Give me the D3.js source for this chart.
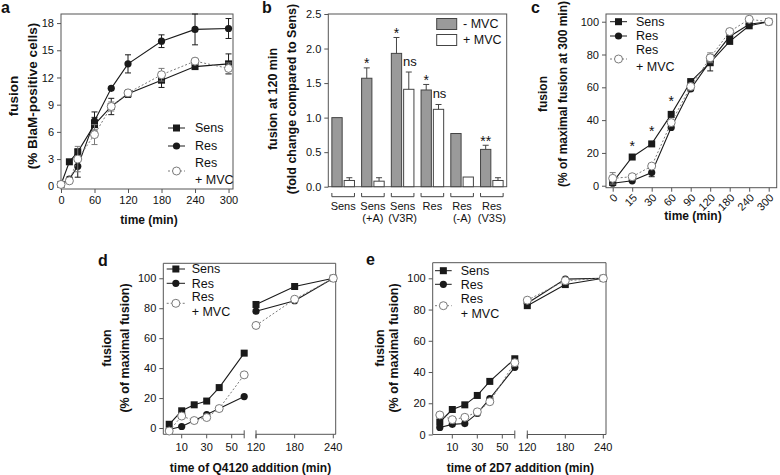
<!DOCTYPE html>
<meta charset="utf-8">
<script src="https://d3js.org/d3.v7.min.js"></script>
<style>
body { margin: 0; background: #fff; }
text { font-family: "Liberation Sans", Arial, sans-serif; fill: #111; }
</style>
<body></body>
<script>

// ---------- data ----------
// panel a: fusion kinetics (% BlaM-positive cells)
var timeA = [0, 15, 30, 60, 90, 120, 180, 240, 300];
var aSens    = [0.2, 2.7, 3.8, 6.8, 8.8, 10.2, 11.7, 13.2, 13.5];
var aSensErr = [0, 0, 0.3, 0.8, 0.9, 0.4, 0.8, 0.3, 1.1];
var aRes     = [0.2, 0.8, 2.2, 7.2, 10.8, 13.5, 16.0, 17.3, 17.4];
var aResErr  = [0, 0.2, 1.2, 1.0, 0, 1.0, 0.7, 1.7, 1.1];
var aMvc     = [0.2, 0.6, 3.0, 5.7, 8.8, 10.3, 12.3, 13.8, 13.0];
var aMvcErr  = [0, 0.2, 1.4, 1.1, 0.5, 0.3, 0.7, 0.3, 0.6];
var aTicksY = [0, 3, 6, 9, 12, 15, 18];
var aTicksX = [0, 60, 120, 180, 240, 300];

// panel b: fusion at 120 min, fold change
var bLine1 = ["Sens", "Sens", "Sens", "Res", "Res", "Res"];
var bLine2 = ["", "(+A)", "(V3R)", "", "(-A)", "(V3S)"];
var bMinus    = [1.0, 1.57, 1.93, 1.40, 0.77, 0.54];
var bMinusErr = [0, 0.15, 0.23, 0.08, 0, 0.06];
var bPlus     = [0.09, 0.08, 1.41, 1.12, 0.14, 0.09];
var bPlusErr  = [0.04, 0.05, 0.25, 0.07, 0, 0.04];
var bMinusMark = ["", "*", "*", "*", "", "**"];
var bPlusMark  = ["", "", "ns", "ns", "", ""];
var bTicksY = [0, 0.5, 1.0, 1.5, 2.0, 2.5];

// panel c: % of maximal fusion at 300 min
var cTimes = ["0", "15", "30", "60", "90", "120", "180", "240", "300"];
var cSens    = [2, 17.5, 25.5, 43.5, 63.5, 75, 88, 97.5, 100];
var cSensErr = [0, 0, 0, 0, 0, 5, 0, 0, 0];
var cRes     = [1.5, 3, 8, 35.5, 59, 76, 91, 98.5, 100];
var cResErr  = [0, 0, 2.5, 0, 0, 0, 0, 0, 0];
var cMvc     = [4.5, 5.5, 12, 38.5, 60.5, 78, 94, 101.5, 100];
var cMvcErr  = [3.5, 1, 0, 0, 0, 3, 0, 1, 0];
var cStarAt  = ["15", "30", "60"];
var cStarVal = [26, 35, 53];
var cTicksY = [0, 20, 40, 60, 80, 100];

// panels d, e: time of inhibitor addition
var addTimes = [0, 10, 20, 30, 40, 60, 120, 180, 240];
var dSens = [2.5, 11.5, 15.5, 18, 27, 50, 82.5, 94.5, 100];
var dRes  = [-1, 1, 5, 9, 13, 21, 78, 85, 100];
var dMvc  = [-2, 8, 5, 7, 13, 35.5, 68.5, 86, 100];
var eSens = [8, 16, 19, 25, 34, 48.5, 82.5, 96, 100];
var eRes  = [4.5, 6.5, 7, 13.5, 23, 43, 84, 99.5, 100];
var eMvc  = [12.5, 9.5, 11, 14.5, 21, 46, 86, 98.5, 100];
var leftTicks = [10, 30, 50], rightTicks = [120, 180, 240];

var seriesNames = ["Sens", "Res", "Res", "+ MVC"];

// ---------- setup ----------
var FONT = '"Liberation Sans", Arial, sans-serif';
var ink = "#1a1a1a", frameCol = "#555", mvcCol = "#7a7a7a";

var svg = d3.select("body").append("svg")
    .attr("width", 780)
    .attr("height", 475);

function styleAxis(g) {
  g.attr("font-family", FONT).attr("font-size", 11);
  g.selectAll("line").attr("stroke", frameCol);
  g.selectAll("text").attr("fill", "#111");
  g.select(".domain").remove();
}

function yAxis(scale, x, ticks, fmt) {
  svg.append("g")
      .attr("transform", "translate(" + x + ",0)")
      .call(d3.axisLeft(scale).tickValues(ticks).tickSize(4).tickPadding(3).tickFormat(fmt || d3.format("d")))
      .call(styleAxis);
}

function yTitle(x1, x2, cy, t1, t2, fs) {
  [[x1, t1], [x2, t2]].forEach(function(p) {
    svg.append("text")
        .attr("transform", "translate(" + p[0] + "," + cy + ") rotate(-90)")
        .attr("text-anchor", "middle")
        .attr("dy", "0.35em")
        .attr("font-size", fs || 12.5)
        .attr("font-weight", "bold")
        .text(p[1]);
  });
}

function xTitle(cx, y, t) {
  svg.append("text").attr("x", cx).attr("y", y)
      .attr("text-anchor", "middle").attr("font-size", 12).attr("font-weight", "bold").text(t);
}

function panelLetter(x, y, t) {
  svg.append("text").attr("x", x).attr("y", y)
      .attr("font-size", 16).attr("font-weight", "bold").text(t);
}

function marker(g, px, py, kind) {
  if (kind == "sq") {
    g.append("rect").attr("x", px - 3.5).attr("y", py - 3.5)
        .attr("width", 7).attr("height", 7).attr("fill", ink);
  } else if (kind == "dot") {
    g.append("circle").attr("cx", px).attr("cy", py).attr("r", 3.6).attr("fill", ink);
  } else {
    g.append("circle").attr("cx", px).attr("cy", py).attr("r", 4)
        .attr("fill", "#fff").attr("stroke", mvcCol).attr("stroke-width", 1);
  }
}

function series(g, xs, ys, errs, xf, yf, kind) {
  var open = kind == "open";
  var col = open ? mvcCol : ink;
  g.append("path")
      .datum(ys)
      .attr("d", d3.line().x(function(d, i) { return xf(xs[i]); }).y(function(d) { return yf(d); }))
      .attr("fill", "none")
      .attr("stroke", col)
      .attr("stroke-width", open ? 1 : 1.1)
      .attr("stroke-dasharray", open ? "2,2" : null);
  if (errs) {
    errs.forEach(function(e, i) {
      if (!e) return;
      var px = xf(xs[i]), lo = yf(ys[i] - e), hi = yf(ys[i] + e);
      g.append("path")
          .attr("d", "M" + px + "," + lo + "V" + hi + "M" + (px - 3) + "," + lo + "h6M" + (px - 3) + "," + hi + "h6")
          .attr("stroke", col).attr("stroke-width", 1).attr("fill", "none");
    });
  }
  ys.forEach(function(d, i) { marker(g, xf(xs[i]), yf(d), kind); });
}

function legend(x1, x2, tx, ySens, yRes, yMvc, yResT, yMvcT) {
  var g = svg.append("g");
  var rows = [[ySens, "sq"], [yRes, "dot"], [yMvc, "open"]];
  rows.forEach(function(r) {
    var open = r[1] == "open";
    g.append("line").attr("x1", x1).attr("x2", x2).attr("y1", r[0]).attr("y2", r[0])
        .attr("stroke", open ? mvcCol : ink).attr("stroke-dasharray", open ? "2,2" : null);
    marker(g, (x1 + x2) / 2, r[0], r[1]);
  });
  [[ySens, seriesNames[0]], [yRes, seriesNames[1]], [yResT, seriesNames[2]], [yMvcT, seriesNames[3]]].forEach(function(r) {
    g.append("text").attr("x", tx).attr("y", r[0]).attr("dy", "0.35em").attr("font-size", 12.5).text(r[1]);
  });
}

// ---------- panel a ----------
(function() {
  var x0 = 61, x1 = 233, y0 = 14, y1 = 189;
  var x = d3.scaleLinear().domain([0, 308]).range([x0, x1]);
  var y = d3.scaleLinear().domain([-0.3, 19]).range([y1, y0]);
  svg.append("rect").attr("x", x0).attr("y", y0).attr("width", x1 - x0).attr("height", y1 - y0)
      .attr("fill", "none").attr("stroke", frameCol);
  yAxis(y, x0, aTicksY);
  svg.append("g").attr("transform", "translate(0," + y1 + ")")
      .call(d3.axisBottom(x).tickValues(aTicksX).tickSize(4).tickPadding(3))
      .call(styleAxis);
  var g = svg.append("g");
  series(g, timeA, aSens, aSensErr, x, y, "sq");
  series(g, timeA, aRes, aResErr, x, y, "dot");
  series(g, timeA, aMvc, aMvcErr, x, y, "open");
  legend(168, 185, 195, 128, 146, 171, 163, 180);
  yTitle(13, 32, 96, "fusion", "(% BlaM-positive cells)", 13.5);
  xTitle(149, 224, "time (min)");
  panelLetter(1, 13, "a");
})();

// ---------- panel b ----------
(function() {
  var x0 = 328.3, x1 = 506.7, y0 = 14, y1 = 186.7;
  var x = d3.scaleBand().domain(d3.range(bMinus.length)).range([x0, x1]).paddingInner(0.24).paddingOuter(0.12);
  var y = d3.scaleLinear().domain([0, 2.5]).range([y1, y0]);
  svg.append("rect").attr("x", x0).attr("y", y0).attr("width", x1 - x0).attr("height", y1 - y0)
      .attr("fill", "none").attr("stroke", frameCol);
  yAxis(y, x0, bTicksY, d3.format(".1f"));
  var bw = x.bandwidth(), barW = (bw - 2) / 2;
  var g = svg.append("g");
  [[bMinus, bMinusErr, bMinusMark, 0, "#9a9a9a"], [bPlus, bPlusErr, bPlusMark, barW + 2, "#fff"]].forEach(function(s) {
    s[0].forEach(function(v, i) {
      var bx = x(i) + s[3];
      g.append("rect").attr("x", bx).attr("y", y(v)).attr("width", barW).attr("height", y1 - y(v))
          .attr("fill", s[4]).attr("stroke", "#444").attr("stroke-width", 1);
      var top = y(v + s[1][i]);
      if (s[1][i]) {
        g.append("path").attr("d", "M" + (bx + barW / 2) + "," + y(v) + "V" + top + "M" + (bx + barW / 2 - 3) + "," + top + "h6")
            .attr("stroke", "#444").attr("fill", "none");
      }
      var m = s[2][i];
      if (m == "ns") {
        g.append("text").attr("x", bx + barW / 2 + 1).attr("y", top - 6.5).attr("text-anchor", "middle")
            .attr("font-size", 13).text(m);
      } else if (m) {
        g.append("text").attr("x", bx + barW / 2).attr("y", top + 0.5).attr("text-anchor", "middle")
            .attr("font-size", 14).text(m);
      }
    });
  });
  // group brackets and labels
  bLine1.forEach(function(t, i) {
    var a = x(i), b = x(i) + bw;
    g.append("path").attr("d", "M" + a + ",193V196.7H" + b + "V193").attr("stroke", "#444").attr("fill", "none");
    g.append("text").attr("x", (a + b) / 2).attr("y", 210).attr("text-anchor", "middle").attr("font-size", 11).text(t);
    if (bLine2[i]) g.append("text").attr("x", (a + b) / 2).attr("y", 222).attr("text-anchor", "middle").attr("font-size", 11).text(bLine2[i]);
  });
  // legend
  svg.append("rect").attr("x", 436.7).attr("y", 18.5).attr("width", 20).attr("height", 11).attr("fill", "#9a9a9a").attr("stroke", "#444");
  svg.append("rect").attr("x", 436.7).attr("y", 34.5).attr("width", 20).attr("height", 11).attr("fill", "#fff").attr("stroke", "#444");
  svg.append("text").attr("x", 463).attr("y", 24).attr("dy", "0.35em").attr("font-size", 12.5).text("- MVC");
  svg.append("text").attr("x", 463).attr("y", 40).attr("dy", "0.35em").attr("font-size", 12.5).text("+ MVC");
  yTitle(273, 292, 99, "fusion at 120 min", "(fold change compared to Sens)");
  panelLetter(262, 13, "b");
})();

// ---------- panel c ----------
(function() {
  var x0 = 606, x1 = 776.7, y0 = 14, y1 = 187.7;
  var x = d3.scalePoint().domain(cTimes).range([612.7, 768.7]);
  var y = d3.scaleLinear().domain([-1.2, 104.7]).range([y1, y0]);
  svg.append("rect").attr("x", x0).attr("y", y0).attr("width", x1 - x0).attr("height", y1 - y0)
      .attr("fill", "none").attr("stroke", frameCol);
  yAxis(y, x0, cTicksY);
  var ax = svg.append("g").attr("transform", "translate(0," + y1 + ")")
      .call(d3.axisBottom(x).tickSize(4).tickFormat(""))
      .call(styleAxis);
  // slanted category labels
  cTimes.forEach(function(t) {
    svg.append("text")
        .attr("transform", "translate(" + (x(t) + 3) + "," + (y1 + 8) + ") rotate(-45)")
        .attr("text-anchor", "end")
        .attr("dy", "0.35em")
        .attr("font-size", 11)
        .text(t);
  });
  var g = svg.append("g");
  series(g, cTimes, cSens, cSensErr, x, y, "sq");
  series(g, cTimes, cRes, cResErr, x, y, "dot");
  series(g, cTimes, cMvc, cMvcErr, x, y, "open");
  cStarAt.forEach(function(t, i) {
    g.append("text").attr("x", x(t)).attr("y", y(cStarVal[i]) + 7.5).attr("text-anchor", "middle")
        .attr("font-size", 14).text("*");
  });
  legend(610, 627, 636, 21.7, 36, 59, 50, 67);
  yTitle(543, 563, 94, "fusion", "(% of maximal fusion at 300 min)", 12);
  xTitle(693, 220, "time (min)");
  panelLetter(531, 13, "c");
})();

// ---------- panels d and e (broken x axis) ----------
function brokenPanel(o) {
  var xl = d3.scaleLinear().domain([0, 60]).range(o.left);
  var xr = d3.scaleLinear().domain([120, 240]).range(o.right);
  var xf = function(t) { return t <= 60 ? xl(t) : xr(t); };
  var y = d3.scaleLinear().domain(o.yDom).range([o.axisY, o.top]);
  svg.append("path")
      .attr("d", "M" + o.x0 + "," + o.axisY + "V" + o.top + "H" + o.x1 + "V" + o.axisY)
      .attr("fill", "none").attr("stroke", frameCol);
  yAxis(y, o.x0, cTicksY);
  // broken axis segments
  var ax = svg.append("g").attr("stroke", frameCol).attr("fill", "none");
  ax.append("path").attr("d", "M" + o.x0 + "," + o.axisY + "H" + xl(60) + "M" + xl(60) + "," + (o.axisY - 4) + "v8");
  ax.append("path").attr("d", "M" + xr(120) + "," + o.axisY + "H" + o.x1 + "M" + xr(120) + "," + (o.axisY - 4) + "v8");
  var ticks = leftTicks.concat(rightTicks);
  ticks.forEach(function(t) {
    ax.append("line").attr("x1", xf(t)).attr("x2", xf(t)).attr("y1", o.axisY).attr("y2", o.axisY + 4);
    svg.append("text").attr("x", xf(t)).attr("y", 451).attr("text-anchor", "middle").attr("font-size", 11).text(t);
  });
  var g = svg.append("g");
  [[o.sens, "sq"], [o.res, "dot"], [o.mvc, "open"]].forEach(function(s) {
    series(g, addTimes.slice(0, 6), s[0].slice(0, 6), null, xf, y, s[1]);
    series(g, addTimes.slice(6), s[0].slice(6), null, xf, y, s[1]);
  });
  xTitle((o.x0 + o.x1) / 2 + 1, 472, o.title);
}

brokenPanel({
  x0: 163.3, x1: 335.7, top: 263.3, axisY: 434.3, yDom: [-4.2, 110],
  left: [169.2, 244.2], right: [256, 333.3],
  sens: dSens, res: dRes, mvc: dMvc, title: "time of Q4120 addition (min)"
});
legend(166.7, 185, 191.7, 269, 283.3, 303.3, 296.7, 311.7);
yTitle(106.7, 124.7, 348, "fusion", "(% of maximal fusion)");
panelLetter(98, 266, "d");

brokenPanel({
  x0: 432.7, x1: 606, top: 262.7, axisY: 434.5, yDom: [0, 110],
  left: [439.8, 514.8], right: [527.3, 603.3],
  sens: eSens, res: eRes, mvc: eMvc, title: "time of 2D7 addition (min)"
});
legend(435, 451.7, 460.7, 270.7, 284.3, 305.7, 298.3, 313.3);
yTitle(380, 394, 348, "fusion", "(% of maximal fusion)");
panelLetter(366, 265, "e");

</script>
